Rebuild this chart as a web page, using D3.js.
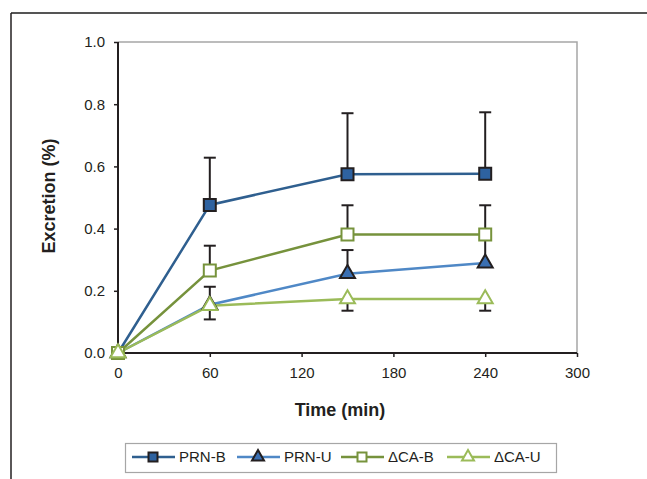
<!DOCTYPE html>
<html>
<head>
<meta charset="utf-8">
<script src="https://cdn.jsdelivr.net/npm/d3@7"></script>
<style>
  body { margin: 0; background: #fff; }
  svg text { font-family: "Liberation Sans", Arial, sans-serif; fill: #231f20; }
</style>
</head>
<body>
<div id="chart"></div>
<script>
// excretion over time, four groups with one-sided error bars
var times = [0, 60, 150, 240];
var seriesNames = ["PRN-B", "PRN-U", "\u0394CA-B", "\u0394CA-U"];
var prnB = [0, 0.476, 0.575, 0.576];
var prnU = [0, 0.155, 0.255, 0.289];
var dcaB = [0, 0.265, 0.381, 0.381];
var dcaU = [0, 0.152, 0.174, 0.174];
// error bar lengths (+ = drawn up, - = drawn down)
var prnBErr = [0, 0.152, 0.196, 0.198];
var prnUErr = [0, 0.058, 0.076, 0.08];
var dcaBErr = [0, 0.08, 0.094, 0.094];
var dcaUErr = [0, -0.044, -0.038, -0.038];
var xTicks = [0, 60, 120, 180, 240, 300];
var yTicks = [0, 0.2, 0.4, 0.6, 0.8, 1.0];

var width = 647, height = 479,
    plot = {left: 118, right: 577, top: 42, bottom: 353};

var styles = [
  {line: "#2f5f8f", shape: "square", fill: "#2e62a0", stroke: "#231f20"},
  {line: "#4f88c6", shape: "triangle", fill: "#3a6fb2", stroke: "#231f20"},
  {line: "#76923c", shape: "square", fill: "#ffffff", stroke: "#77933c"},
  {line: "#9bbb59", shape: "triangle", fill: "#ffffff", stroke: "#9bbb59"}
];
var values = [prnB, prnU, dcaB, dcaU];
var errs = [prnBErr, prnUErr, dcaBErr, dcaUErr];

var x = d3.scaleLinear().domain([0, 300]).range([plot.left, plot.right]);
var y = d3.scaleLinear().domain([0, 1]).range([plot.bottom, plot.top]);

var svg = d3.select("#chart").append("svg")
  .attr("width", width).attr("height", height);

// outer frame (top and left visible)
svg.append("line").attr("x1", 11).attr("x2", width).attr("y1", 13).attr("y2", 13)
  .attr("stroke", "#555").attr("stroke-width", 2);
svg.append("line").attr("x1", 11).attr("x2", 11).attr("y1", 13).attr("y2", height)
  .attr("stroke", "#231f20").attr("stroke-width", 1.5);

// plot area border top/right
svg.append("path")
  .attr("d", "M" + plot.left + "," + plot.top + "H" + plot.right + "V" + plot.bottom)
  .attr("fill", "none").attr("stroke", "#a6a6a6").attr("stroke-width", 1.5);

// axes
var xAxis = d3.axisBottom(x).tickValues(xTicks).tickSize(4).tickFormat(d3.format("d"));
var yAxis = d3.axisLeft(y).tickValues(yTicks).tickSize(4).tickFormat(d3.format(".1f"));

var gx = svg.append("g").attr("transform", "translate(0," + plot.bottom + ")").call(xAxis);
var gy = svg.append("g").attr("transform", "translate(" + plot.left + ",0)").call(yAxis);
[gx, gy].forEach(function(g) {
  g.select(".domain").attr("stroke", "#231f20").attr("stroke-width", 2);
  g.selectAll(".tick line").attr("stroke", "#231f20").attr("stroke-width", 1.5);
  g.selectAll(".tick text").attr("font-size", 15).attr("fill", "#231f20")
    .attr("font-family", "Liberation Sans, Arial, sans-serif");
});
gx.select(".domain").attr("d", "M" + plot.left + ",0H" + plot.right);
gx.selectAll(".tick text").attr("y", 20).attr("dy", "0.35em");
gy.select(".domain").attr("d", "M0," + plot.top + "V" + plot.bottom);
gy.selectAll(".tick text").attr("x", -13);

// axis titles
svg.append("text").attr("x", 340).attr("y", 416).attr("text-anchor", "middle")
  .attr("font-size", 18).attr("font-weight", "bold").text("Time (min)");
svg.append("text").attr("transform", "translate(55,196) rotate(-90)")
  .attr("text-anchor", "middle").attr("font-size", 18).attr("font-weight", "bold")
  .text("Excretion (%)");

function markerPath(shape, s) {
  if (shape === "square") return d3.symbol().type(d3.symbolSquare).size(s * s)();
  var h = s * 0.866;
  return "M0," + (-h * 2 / 3) + "L" + (s / 2) + "," + (h / 3) + "L" + (-s / 2) + "," + (h / 3) + "Z";
}

var line = d3.line().x(function(d) { return x(d.t); }).y(function(d) { return y(d.v); });

// series lines
values.forEach(function(vals, i) {
  var pts = times.map(function(t, j) { return {t: t, v: vals[j]}; });
  svg.append("path").datum(pts).attr("d", line)
    .attr("fill", "none").attr("stroke", styles[i].line).attr("stroke-width", 2.5);
});

// error bars
values.forEach(function(vals, i) {
  times.forEach(function(t, j) {
    var e = errs[i][j];
    if (e === 0) return;
    var cx = x(t), y0 = y(vals[j]), y1 = y(vals[j] + e);
    svg.append("line").attr("x1", cx).attr("x2", cx).attr("y1", y0).attr("y2", y1)
      .attr("stroke", "#231f20").attr("stroke-width", 2);
    svg.append("line").attr("x1", cx - 6).attr("x2", cx + 6).attr("y1", y1).attr("y2", y1)
      .attr("stroke", "#231f20").attr("stroke-width", 2);
  });
});

// markers, later series on top (as excel does it)
values.forEach(function(vals, i) {
  var st = styles[i];
  svg.selectAll(null).data(times.map(function(t, j) { return {t: t, v: vals[j]}; }))
    .join("path")
    .attr("transform", function(d) { return "translate(" + x(d.t) + "," + y(d.v) + ")"; })
    .attr("d", markerPath(st.shape, st.shape === "square" ? 12 : 15))
    .attr("fill", st.fill).attr("stroke", st.stroke).attr("stroke-width", 2);
});

// legend
svg.append("rect").attr("x", 125.5).attr("y", 443.5).attr("width", 431).attr("height", 29)
  .attr("fill", "#fff").attr("stroke", "#a6a6a6").attr("stroke-width", 1.2);
var legX = [132, 237, 341, 447];
seriesNames.forEach(function(name, i) {
  var st = styles[i], lx = legX[i], ly = 457;
  svg.append("line").attr("x1", lx).attr("x2", lx + 43).attr("y1", ly).attr("y2", ly)
    .attr("stroke", st.line).attr("stroke-width", 2.5);
  svg.append("path").attr("transform", "translate(" + (lx + 21) + "," + ly + ")")
    .attr("d", markerPath(st.shape, st.shape === "square" ? 9 : 12))
    .attr("fill", st.fill).attr("stroke", st.stroke).attr("stroke-width", 2);
  svg.append("text").attr("x", lx + 47).attr("y", ly).attr("dy", "0.36em")
    .attr("font-size", 15).text(name);
});
</script>
</body>
</html>
